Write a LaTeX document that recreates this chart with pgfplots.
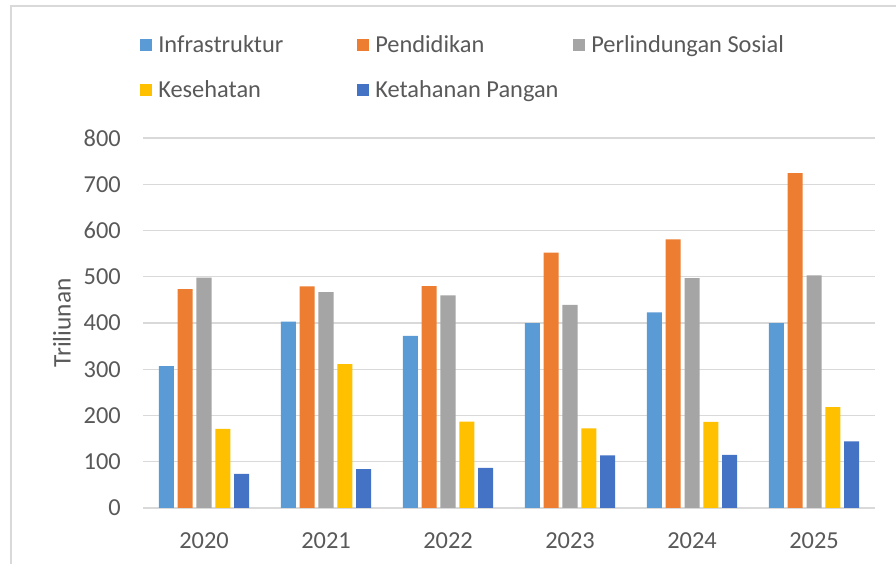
\documentclass[border=0pt]{standalone}
\usepackage{pgfplots}
\pgfplotsset{compat=1.18}
\usepackage{fontspec}
\setmainfont{Carlito}
\definecolor{cInf}{HTML}{5B9BD5}
\definecolor{cPen}{HTML}{ED7D31}
\definecolor{cPer}{HTML}{A5A5A5}
\definecolor{cKes}{HTML}{FFC000}
\definecolor{cKet}{HTML}{4472C4}
\definecolor{txt}{HTML}{595959}
\definecolor{gridc}{HTML}{D9D9D9}
\begin{document}
\begin{tikzpicture}
\useasboundingbox (0pt,0pt) rectangle (672pt,423pt);
\draw[gridc, line width=0.8pt] (8.25pt,0pt) -- (8.25pt,418.5pt) -- (672pt,418.5pt);
\begin{axis}[
  at={(107.25pt,42pt)}, anchor=south west,
  scale only axis, width=549pt, height=277.5pt,
  ybar, bar width=0.123,
  xmin=-0.5, xmax=5.5, ymin=0, ymax=800,
  xtick={0,1,2,3,4,5},
  xticklabels={2020,2021,2022,2023,2024,2025},
  ytick={0,100,...,800},
  xmajorgrids=false, ymajorgrids=true, grid style={draw=gridc, line width=1.1pt},
  axis line style={draw=none},
  major tick length=0pt,
  tick label style={font=\fontsize{18.3}{22}\selectfont, text=txt},
  /pgf/number format/assume math mode=true,
  yticklabel style={inner sep=0pt, xshift=-16.5pt},
  xticklabel style={inner sep=0pt, yshift=-18pt},
  ylabel={Triliunan},
  ylabel style={at={(axis description cs:-0.1107,0.5)}, anchor=center, font=\fontsize{19}{22}\selectfont, text=txt},
  legend columns=3,
  legend style={at={(axis description cs:-0.0041,1.285)}, anchor=north west, draw=none, fill=none,
    font=\fontsize{18.3}{22}\selectfont, text=txt, inner sep=0pt,
    /tikz/every odd column/.append style={column sep=2.5pt},
    /tikz/every even column/.append style={column sep=4pt},
    row sep=15.75pt},
  legend cell align=left,
  legend image code/.code={\fill[#1] (0pt,-4.5pt) rectangle (9pt,4.5pt);},
]
\addplot[fill=cInf, draw=none, bar shift=-0.309] coordinates {(0,307) (1,403) (2,372) (3,400) (4,423) (5,400)};
\addplot[fill=cPen, draw=none, bar shift=-0.1545] coordinates {(0,473) (1,479) (2,480) (3,552) (4,581) (5,724)};
\addplot[fill=cPer, draw=none, bar shift=0] coordinates {(0,498) (1,467) (2,460) (3,439) (4,497) (5,503)};
\addplot[fill=cKes, draw=none, bar shift=0.1545] coordinates {(0,171) (1,311) (2,187) (3,172) (4,186) (5,218)};
\addplot[fill=cKet, draw=none, bar shift=0.309] coordinates {(0,74) (1,84) (2,87) (3,114) (4,115) (5,144)};
\legend{\makebox[143.25pt][l]{Infrastruktur},\makebox[142.5pt][l]{Pendidikan},Perlindungan Sosial,Kesehatan,Ketahanan Pangan}
\end{axis}
\end{tikzpicture}
\end{document}
